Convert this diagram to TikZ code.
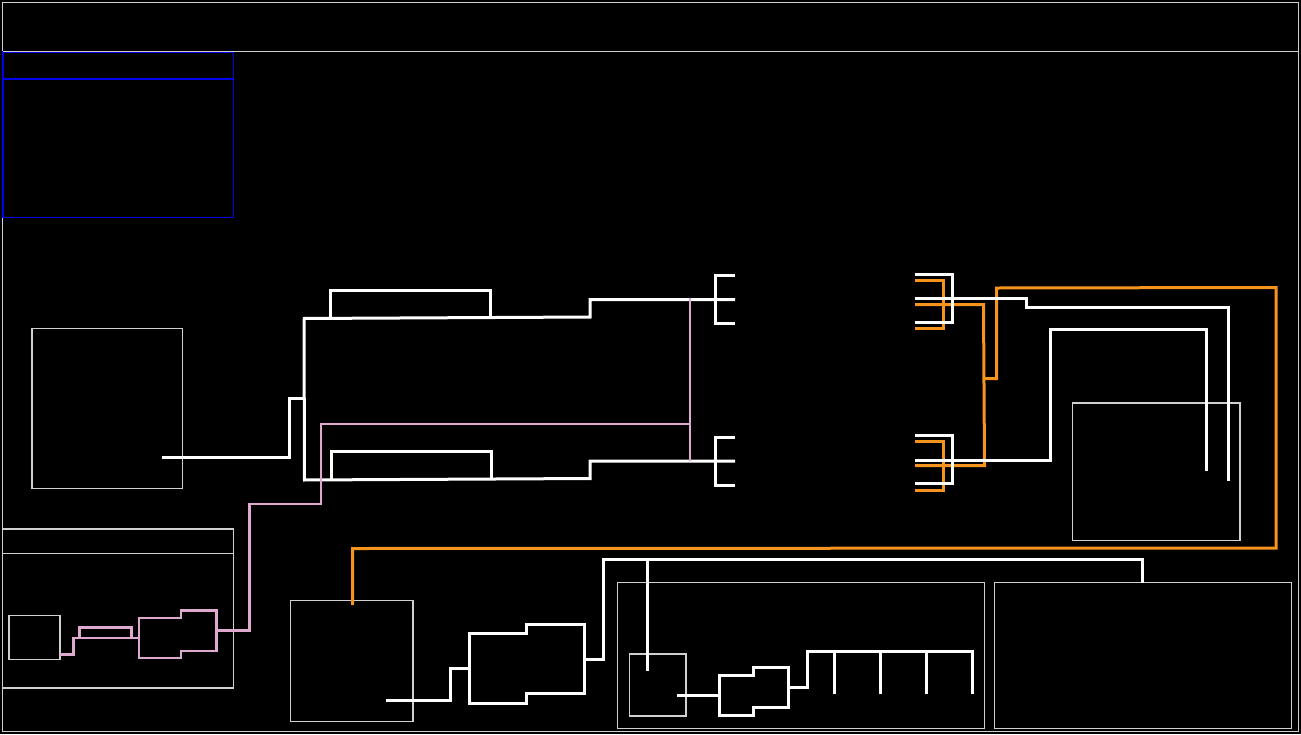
\documentclass[tikz,border=0pt]{standalone}
\usetikzlibrary{calc}
\definecolor{boxgray}{HTML}{D0D0D0}
\definecolor{wireorange}{HTML}{F7941D}
\definecolor{wirepink}{HTML}{DDA9CF}
\definecolor{frameblue}{HTML}{0000F0}
\definecolor{frameblued}{HTML}{0000E0}
\tikzset{
  panel/.style={draw=boxgray,line width=1.3pt},
  bluepanel/.style={draw=frameblued,line width=1.7pt},
  blueedge/.style={draw=frameblue,line width=2pt},
  whitewire/.style={draw=white,line width=3pt,line join=miter},
  orangewire/.style={draw=wireorange,line width=3pt,line join=miter},
  pinkwire/.style={draw=wirepink,line width=2.9pt,line join=miter},
}
\begin{document}
\begin{tikzpicture}[x=1pt,y=-1pt]
\useasboundingbox (0,0) rectangle (1301,734);
\fill[black] (0,0) rectangle (1301,734);
% panels
\draw[panel] (2.5,2.5) rectangle (1298.5,731.5);
\draw[panel] (2.5,51.5) -- (1298.5,51.5);
\draw[panel] (32,328.5) rectangle (182.5,488.5);
\draw[panel] (2.5,529) rectangle (233.5,688);
\draw[panel] (2.5,553.5) -- (233.5,553.5);
\draw[panel] (9,615.5) rectangle (60,659.5);
\draw[panel] (290.5,600.5) rectangle (413,721.5);
\draw[panel] (617.5,582.5) rectangle (984.5,728.5);
\draw[panel] (629.5,654) rectangle (686,716);
\draw[panel] (994.5,582.5) rectangle (1291.5,728.5);
\draw[panel] (1072.5,403) rectangle (1240,540.5);
% blue panel
\draw[bluepanel] (3,52) rectangle (233.5,217.5);
\draw[blueedge] (3,52) -- (3,217.5);
\draw[blueedge] (3,78.5) -- (233.5,78.5);
\draw[panel] (2.5,51.5) -- (233.5,51.5);
% orange wiring
\draw[orangewire] (915,280.5) -- (943.5,280.5) -- (943.5,328.5) -- (915,328.5);
\draw[orangewire] (915,304.5) -- (983.5,304.5) -- (984.5,465.5) -- (915,465.5);
\draw[orangewire] (915,441.5) -- (943.5,441.5) -- (943.5,490) -- (915,490);
\draw[orangewire] (984,378.5) -- (996.5,378.5) -- (996.5,288) -- (1276,287.5) -- (1276,548) -- (352.5,548.5) -- (352.5,605);
% white wiring, top
\draw[whitewire] (162,457) -- (289,457) -- (289,398) -- (304,398);
\draw[whitewire] (304,318.5) -- (304.5,480);
\draw[whitewire] (303,318.5) -- (590,317) -- (590,299.5) -- (735,299.5);
\draw[whitewire] (330,318) -- (330,290) -- (490.5,290) -- (490.5,317.5);
\draw[whitewire] (303,480) -- (590,478.5) -- (590,461) -- (735,461);
\draw[whitewire] (331,480) -- (331,451.5) -- (491,451.5) -- (491,478.5);
\draw[whitewire] (735,275.5) -- (715.5,275.5) -- (715.5,323.5) -- (735,323.5);
\draw[whitewire] (735,437) -- (715.5,437) -- (715.5,485) -- (735,485);
\draw[whitewire] (915,274.5) -- (952.5,274.5) -- (952.5,322.5) -- (915,322.5);
\draw[whitewire] (915,298.5) -- (1026,298.5) -- (1026,307) -- (1228,307) -- (1228,481);
\draw[whitewire] (915,435.5) -- (952.5,435.5) -- (952.5,483.5) -- (915,483.5);
\draw[whitewire] (915,460) -- (1050,460) -- (1050,329.5) -- (1206,329.5) -- (1206,471);
% white wiring, bottom
\draw[whitewire] (386,700) -- (450.5,700) -- (450.5,668) -- (469,668);
\draw[whitewire] (469,633) -- (526,633) -- (526,624) -- (584.5,624) -- (584.5,693) -- (526,693) -- (526,703) -- (469,703) -- cycle;
\draw[whitewire] (584.5,659) -- (603,659) -- (603,559.5) -- (1142.5,559.5) -- (1142.5,583);
\draw[whitewire] (647,559.5) -- (647,671);
\draw[whitewire] (677,695) -- (719,695);
\draw[whitewire] (719,675) -- (753,675) -- (753,667.5) -- (788.5,667.5) -- (788.5,707) -- (753,707) -- (753,715) -- (719,715) -- cycle;
\draw[whitewire] (788.5,687.5) -- (807,687.5) -- (807,651.5) -- (972,651.5) -- (972,694);
\draw[whitewire] (834.5,651.5) -- (834.5,694);
\draw[whitewire] (880.5,651.5) -- (880.5,694);
\draw[whitewire] (926.5,651.5) -- (926.5,694);
% pink wiring
\draw[pinkwire] (690,298) -- (690,461);
\draw[pinkwire] (690,424) -- (321,424) -- (321,504) -- (249.5,504) -- (249.5,630.5) -- (216.5,630.5);
\draw[pinkwire] (139,618) -- (181,618) -- (181,610.5) -- (216.5,610.5) -- (216.5,651) -- (181,651) -- (181,658) -- (139,658) -- cycle;
\draw[pinkwire] (60,654.5) -- (73.5,654.5) -- (73.5,638) -- (139,638);
\draw[pinkwire] (79.5,638) -- (79.5,627.5) -- (131.5,627.5) -- (131.5,638);
\end{tikzpicture}
\end{document}
